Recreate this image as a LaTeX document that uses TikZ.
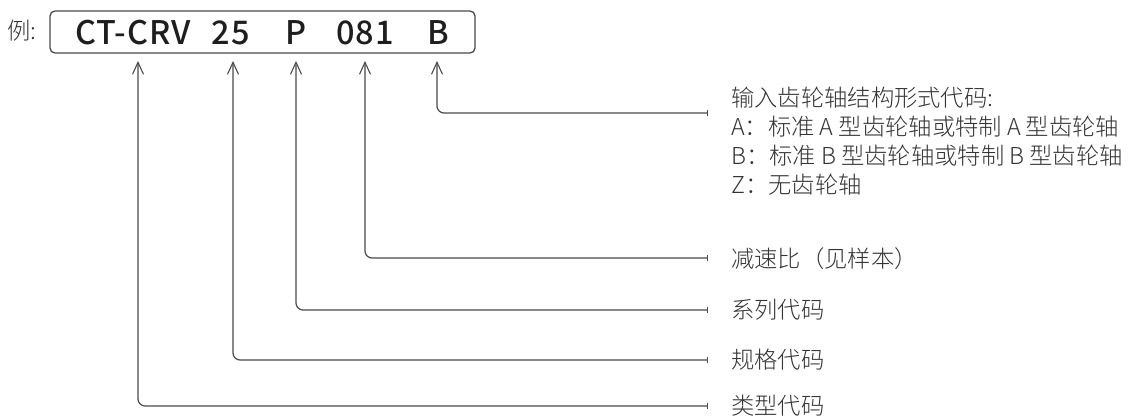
\documentclass[tikz,border=0pt]{standalone}
\usepackage{fontspec}
\setmainfont{Noto Sans CJK SC Light}
\newfontfamily\cjkbold[LetterSpace=3]{Noto Sans CJK SC Medium}
\usetikzlibrary{arrows.meta}
\definecolor{ln}{HTML}{4A4A4A}
\definecolor{tx}{HTML}{333333}
\definecolor{ttl}{HTML}{1E1E1E}
\tikzset{
  code/.style={font=\cjkbold\fontsize{32.5}{32}\selectfont, text=ttl, inner sep=0pt, anchor=base},
  lab/.style={font=\fontsize{23.3}{26}\selectfont, text=tx, inner sep=0pt, anchor=west},
  conn/.style={draw=ln, line width=1.2pt, rounded corners=7pt,
    {Straight Barb[length=12pt,width=11pt,line width=1.1pt]}-{Bar[width=6pt,line width=1.1pt]}},
}
\begin{document}
\begin{tikzpicture}[x=1pt,y=-1pt]
\useasboundingbox (0,0) rectangle (1139,417);
\node[lab] (li) at (7,31) {例:};
\node[draw=ln, line width=1.3pt, rounded corners=5pt, minimum width=425pt, minimum height=42pt, inner sep=0pt] (box) at (262.5,32) {};
\node[code] (c1) at (133,45) {CT-CRV};
\node[code] (c2) at (231,45) {25};
\node[code] (c3) at (296,45) {P};
\node[code] (c4) at (365,45) {081};
\node[code] (c5) at (438,45) {B};
% arrow tips
\coordinate (a1) at (138,61);
\coordinate (a2) at (233,61);
\coordinate (a3) at (296,61);
\coordinate (a4) at (365,61);
\coordinate (a5) at (437,61);
% line ends
\coordinate (e5) at (708,113);
\coordinate (e4) at (708,258);
\coordinate (e3) at (708,310);
\coordinate (e2) at (708,360);
\coordinate (e1) at (708,406);
% labels
\node[lab] (l5a) at (731,98) {输入齿轮轴结构形式代码:};
\node[lab] (l5b) at (731,127) {A：标准 A 型齿轮轴或特制 A 型齿轮轴};
\node[lab] (l5c) at (731,156) {B：标准 B 型齿轮轴或特制 B 型齿轮轴};
\node[lab] (l5d) at (731,185) {Z：无齿轮轴};
\node[lab] (l4) at (731,259) {减速比（见样本）};
\node[lab] (l3) at (731,310) {系列代码};
\node[lab] (l2) at (731,360) {规格代码};
\node[lab] (l1) at (731,406) {类型代码};
% connectors
\draw[conn] (a5) |- (e5);
\draw[conn] (a4) |- (e4);
\draw[conn] (a3) |- (e3);
\draw[conn] (a2) |- (e2);
\draw[conn] (a1) |- (e1);
\end{tikzpicture}
\end{document}
